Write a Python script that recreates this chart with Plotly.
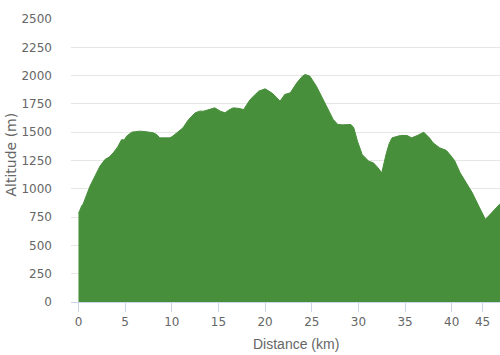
import plotly.graph_objects as go

distance_km = [0.0, 0.1, 0.35, 0.5, 1.23, 1.95, 2.3, 2.84, 3.3, 3.73, 4.2, 4.63, 4.9, 5.16, 5.7,
               6.1, 6.6, 7.2, 7.66, 8.0, 8.38, 8.7, 9.2, 9.8, 10.1, 10.5, 11.2, 11.8, 12.5, 13.0,
               13.4, 14.0, 14.6, 15.2, 15.7, 16.2, 16.6, 17.2, 17.7, 18.4, 19.3, 20.0, 20.7, 21.2,
               21.6, 22.1, 22.7, 23.4, 24.0, 24.3, 24.8, 25.5, 26.2, 26.6, 27.3, 27.8, 28.3, 29.2,
               29.5, 29.9, 30.4, 31.1, 31.6, 32.1, 32.5, 33.0, 33.3, 33.6, 34.5, 35.2, 35.7, 36.3,
               37.0, 37.6, 38.0, 38.7, 39.4, 39.8, 40.3, 40.9, 41.5, 42.2, 42.9, 43.6, 44.1, 44.6, 45.2]
altitude_m = [790, 800, 850, 865, 1023, 1144, 1200, 1259, 1280, 1318, 1370, 1435, 1430, 1465, 1500,
              1505, 1509, 1505, 1503, 1495, 1480, 1450, 1450, 1450, 1465, 1495, 1539, 1612, 1671, 1686,
              1686, 1700, 1715, 1686, 1671, 1700, 1715, 1710, 1700, 1789, 1862, 1883, 1848, 1810,
              1774, 1833, 1848, 1936, 1995, 2010, 1995, 1906, 1789, 1730, 1612, 1568, 1565, 1568,
              1539, 1420, 1303, 1244, 1230, 1185, 1141, 1318, 1400, 1450, 1471, 1471, 1450, 1470,
              1500, 1450, 1406, 1362, 1340, 1303, 1250, 1141, 1060, 965, 846, 730, 773, 820, 870]

x_tick_vals = [0, 5, 10, 15, 20, 25, 30, 35, 40, 43.3]
x_tick_text = ["0", "5", "10", "15", "20", "25", "30", "35", "40", "45"]
y_tick_vals = [0, 250, 500, 750, 1000, 1250, 1500, 1750, 2000, 2250, 2500]

FONT = "DejaVu Sans"
GREY = "#666666"

fig = go.Figure()
fig.add_trace(go.Scatter(
    x=distance_km, y=altitude_m, mode="lines", fill="tozeroy",
    line=dict(color="#488f3b", width=1), fillcolor="#488f3b",
    hoverinfo="skip", showlegend=False,
))

fig.update_layout(
    width=500, height=355,
    margin=dict(l=71, r=0, t=19, b=53),
    paper_bgcolor="white", plot_bgcolor="white",
    font=dict(family=FONT, color=GREY, size=12),
    xaxis=dict(
        range=[-0.8, 45.17], tickmode="array", tickvals=x_tick_vals, ticktext=x_tick_text,
        showgrid=False, zeroline=False, showline=True, linecolor="#ccd6eb", linewidth=1,
        ticks="outside", ticklen=9, tickcolor="#ccd6eb", tickfont=dict(size=12, color=GREY),
    ),
    yaxis=dict(
        range=[0, 2500], tickmode="array", tickvals=y_tick_vals,
        showgrid=True, gridcolor="#e6e6e6", gridwidth=1, zeroline=False, showline=False,
        ticks="", ticklabelstandoff=18, tickfont=dict(size=12, color=GREY),
    ),
    annotations=[
        dict(text="Distance (km)", xref="paper", yref="paper",
             x=(296 - 71) / 429, y=-(344 - 302) / 283, xanchor="center", yanchor="middle",
             showarrow=False, font=dict(family="Liberation Sans", size=14, color=GREY)),
        dict(text="Altitude (m)", xref="paper", yref="paper", textangle=-90,
             x=(10 - 71) / 429, y=(302.5 - 155) / 283, xanchor="center", yanchor="middle",
             showarrow=False, font=dict(family=FONT, size=14, color=GREY)),
    ],
)

fig.write_html("out.html")
